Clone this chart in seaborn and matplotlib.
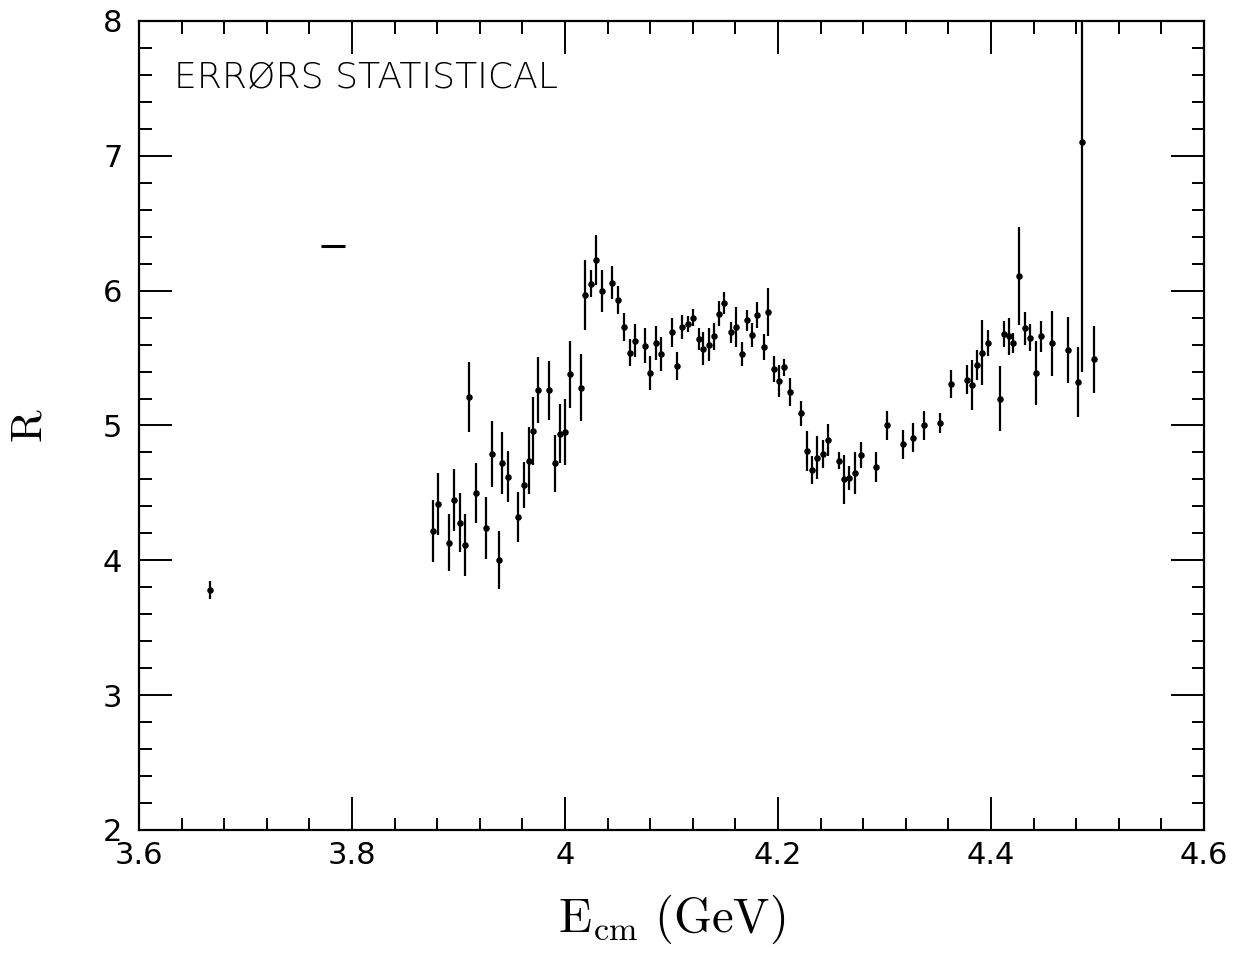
import numpy as np
import pandas as pd
import matplotlib
matplotlib.use("Agg")
import matplotlib.pyplot as plt
import seaborn as sns
from matplotlib.ticker import MultipleLocator, FixedLocator, FixedFormatter

# ---- data ----
energy = [3.667,
          3.876, 3.881, 3.891, 3.896, 3.901, 3.906, 3.910, 3.916, 3.926, 3.931,
          3.938, 3.941, 3.946, 3.956, 3.961, 3.966, 3.970, 3.975, 3.985, 3.991,
          3.995, 4.000, 4.005, 4.015, 4.019, 4.024, 4.029, 4.035, 4.044, 4.050,
          4.055, 4.061, 4.066, 4.075, 4.080, 4.085, 4.090, 4.100, 4.105, 4.110,
          4.115, 4.120, 4.126, 4.130, 4.135, 4.140, 4.145, 4.149, 4.156, 4.161,
          4.166, 4.171, 4.176, 4.180, 4.187, 4.191, 4.196, 4.201, 4.206, 4.211,
          4.222, 4.227, 4.232, 4.237, 4.242, 4.247, 4.257, 4.262, 4.267, 4.272,
          4.278, 4.292, 4.302, 4.317, 4.327, 4.337, 4.352, 4.362, 4.377, 4.382,
          4.387, 4.392, 4.397, 4.408, 4.412, 4.417, 4.421, 4.426, 4.432, 4.437,
          4.442, 4.447, 4.457, 4.472, 4.482, 4.485, 4.497]
R_value = [3.78,
           4.22, 4.42, 4.13, 4.45, 4.28, 4.11, 5.21, 4.50, 4.24, 4.79,
           4.00, 4.72, 4.62, 4.32, 4.56, 4.74, 4.96, 5.26, 5.26, 4.72,
           4.94, 4.95, 5.38, 5.28, 5.97, 6.05, 6.23, 6.00, 6.06, 5.93,
           5.73, 5.54, 5.63, 5.59, 5.39, 5.61, 5.53, 5.69, 5.44, 5.73,
           5.75, 5.80, 5.64, 5.57, 5.60, 5.66, 5.83, 5.91, 5.69, 5.73,
           5.53, 5.78, 5.67, 5.82, 5.58, 5.84, 5.42, 5.33, 5.43, 5.25,
           5.09, 4.81, 4.67, 4.76, 4.79, 4.89, 4.74, 4.60, 4.61, 4.65,
           4.78, 4.69, 5.00, 4.86, 4.91, 5.00, 5.02, 5.31, 5.34, 5.30,
           5.45, 5.54, 5.61, 5.20, 5.68, 5.66, 5.61, 6.11, 5.72, 5.65,
           5.39, 5.66, 5.61, 5.56, 5.32, 7.10, 5.49]
R_error = [0.065,
           0.23, 0.23, 0.21, 0.23, 0.22, 0.23, 0.26, 0.22, 0.23, 0.245,
           0.215, 0.23, 0.19, 0.185, 0.17, 0.245, 0.25, 0.245, 0.22, 0.21,
           0.22, 0.245, 0.25, 0.25, 0.26, 0.10, 0.185, 0.155, 0.12, 0.105,
           0.105, 0.10, 0.125, 0.13, 0.125, 0.125, 0.125, 0.105, 0.105, 0.09,
           0.06, 0.065, 0.08, 0.12, 0.125, 0.10, 0.095, 0.08, 0.08, 0.15,
           0.09, 0.08, 0.09, 0.095, 0.095, 0.18, 0.095, 0.12, 0.06, 0.105,
           0.095, 0.15, 0.105, 0.16, 0.105, 0.12, 0.065, 0.18, 0.09, 0.155,
           0.095, 0.11, 0.105, 0.11, 0.11, 0.105, 0.075, 0.105, 0.105, 0.185,
           0.11, 0.24, 0.095, 0.24, 0.095, 0.135, 0.075, 0.365, 0.12, 0.10,
           0.24, 0.115, 0.24, 0.245, 0.26, 1.70, 0.25]

# short horizontal mark near 3.78 GeV
dash_energy = [3.782]
dash_R = [6.33]
dash_halfwidth = [0.011]

x_tick_values = [3.6, 3.8, 4.0, 4.2, 4.4, 4.6]
x_tick_labels = ["3.6", "3.8", "4", "4.2", "4.4", "4.6"]
y_tick_values = [2, 3, 4, 5, 6, 7, 8]
y_tick_labels = ["2", "3", "4", "5", "6", "7", "8"]

annotation = "ERRØRS STATISTICAL"
x_label = r"$\mathrm{E_{cm}\ (GeV)}$"
y_label = r"$\mathrm{R}$"

df = pd.DataFrame({"E": energy, "R": R_value, "err": R_error})

# ---- styling ----
sns.set_theme(style="ticks")
plt.rcParams["font.family"] = ["DejaVu Sans"]
plt.rcParams["mathtext.fontset"] = "cm"

fig = plt.figure(figsize=(12.46, 9.66), dpi=100)
ax = fig.add_axes([0.1116, 0.1408, 0.8547, 0.8375])

ax.errorbar(df["E"], df["R"], yerr=df["err"], fmt="none",
            ecolor="black", elinewidth=1.6, capsize=0, zorder=2)
sns.scatterplot(data=df, x="E", y="R", ax=ax, color="black", s=22,
                edgecolor="black", linewidth=0, zorder=3, legend=False)
ax.errorbar(dash_energy, dash_R, xerr=dash_halfwidth, fmt="none",
            ecolor="black", elinewidth=2.2, capsize=0, zorder=2)

ax.set_xlim(3.6, 4.6)
ax.set_ylim(2, 8)

ax.xaxis.set_major_locator(FixedLocator(x_tick_values))
ax.xaxis.set_major_formatter(FixedFormatter(x_tick_labels))
ax.xaxis.set_minor_locator(MultipleLocator(0.04))
ax.yaxis.set_major_locator(FixedLocator(y_tick_values))
ax.yaxis.set_major_formatter(FixedFormatter(y_tick_labels))
ax.yaxis.set_minor_locator(MultipleLocator(0.2))

ax.tick_params(which="both", direction="in", top=True, right=True,
               color="black", width=1.4)
ax.tick_params(which="major", length=24, labelsize=22, labelcolor="black")
ax.tick_params(which="minor", length=9)
ax.tick_params(axis="x", which="major", pad=8)
ax.tick_params(axis="y", which="major", pad=12)

for sp in ax.spines.values():
    sp.set_visible(True)
    sp.set_color("black")
    sp.set_linewidth(1.6)

ax.set_xlabel(x_label, fontsize=35, color="black", labelpad=16)
ax.set_ylabel(y_label, fontsize=32, color="black", labelpad=38)

ax.text(0.033, 0.93, annotation, transform=ax.transAxes,
        fontsize=26, color="black", ha="left", va="center",
        fontweight="light")

fig.savefig("out.png", dpi=100, facecolor="white")
